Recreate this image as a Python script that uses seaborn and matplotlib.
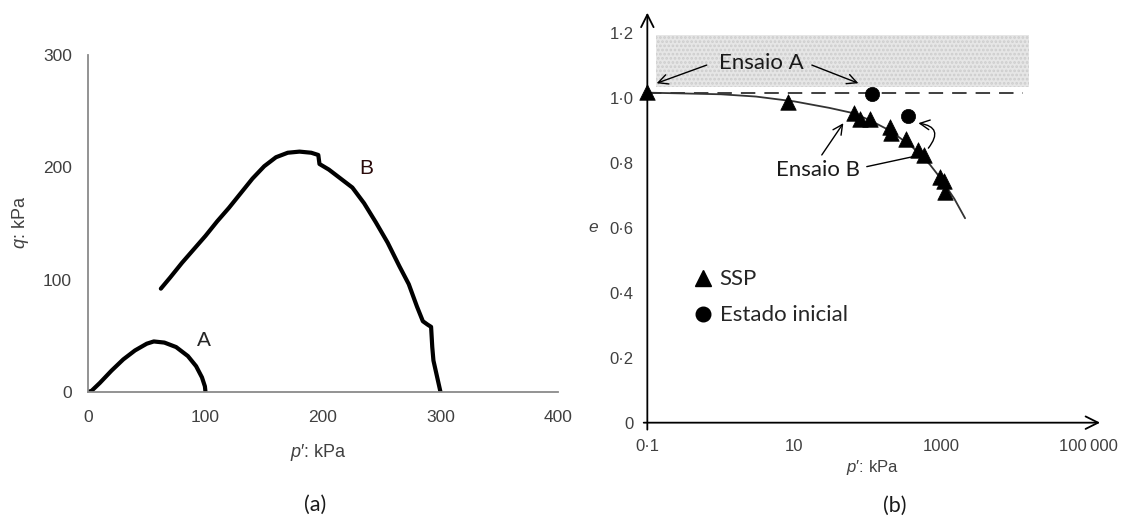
import matplotlib
matplotlib.use("Agg")
import matplotlib.pyplot as plt
from matplotlib.lines import Line2D
from matplotlib.ticker import NullLocator
import seaborn as sns
import pandas as pd

# ---- Panel (a): effective stress paths, q against p' ----
path_a_p = [0, 3, 10, 20, 30, 40, 50, 56, 65, 75, 85, 92, 97, 99.5, 100]
path_a_q = [0, 1, 8, 19, 29, 37, 43, 45, 44, 40, 32, 23, 13, 5, 0]

path_b_p = [62, 70, 80, 90, 100, 110, 120, 130, 140, 150, 160, 170, 180, 190, 196,
            197, 205, 215, 225, 235, 245, 255, 265, 273, 280, 285, 289, 292, 293,
            294, 297, 300]
path_b_q = [92, 102, 115, 127, 139, 152, 164, 177, 190, 201, 209, 213, 214, 213, 211,
            203, 198, 190, 182, 168, 151, 133, 112, 96, 76, 63, 60, 58, 40,
            28, 14, 0]

q_ticks = [0, 100, 200, 300]
p_ticks_a = [0, 100, 200, 300, 400]

# ---- Panel (b): void ratio against log p' ----
ssp_p = [0.1, 8.3, 65, 78, 107, 199, 205, 328, 487, 582, 955, 1070, 1125]
ssp_e = [1.02, 0.989, 0.953, 0.935, 0.935, 0.910, 0.892, 0.873, 0.840, 0.825,
         0.756, 0.746, 0.712]

init_p = [115, 349]
init_e = [1.013, 0.945]

csl_p = [0.1, 1, 3, 10, 30, 60, 100, 200, 400, 700, 1000, 1500, 2100]
csl_e = [1.017, 1.012, 1.005, 0.99, 0.97, 0.955, 0.935, 0.90, 0.85, 0.795, 0.75,
         0.69, 0.63]

e_ticks = [0, 0.2, 0.4, 0.6, 0.8, 1.0, 1.2]
e_tick_labels = ["0", "0·2", "0·4", "0·6", "0·8", "1·0", "1·2"]
p_ticks_b = [0.1, 10, 1000, 100000]
p_tick_labels_b = ["0·1", "10", "1000", "100\u2009000"]

e_initial = 1.017            # dashed reference level
loose_band = (1.035, 1.195)  # shaded band of void ratios
loose_band_p = (0.13, 15500)

sns.set_style("white")
plt.rcParams["font.family"] = ["Liberation Sans", "DejaVu Sans"]
plt.rcParams["mathtext.fontset"] = "custom"
plt.rcParams["mathtext.rm"] = "Liberation Sans"
plt.rcParams["mathtext.it"] = "Liberation Sans:italic"
plt.rcParams["hatch.linewidth"] = 1.3

ANNOT_FONT = ["Lato", "DejaVu Sans"]
P_LABEL = "$p$\u2032: kPa"

fig = plt.figure(figsize=(11.26, 5.19), dpi=100)

# ================= Panel (a) =================
ax1 = fig.add_axes([0.07815, 0.2447, 0.4174, 0.6493])
df_a = pd.DataFrame({"p": path_a_p, "q": path_a_q})
df_b = pd.DataFrame({"p": path_b_p, "q": path_b_q})
sns.lineplot(data=df_a, x="p", y="q", ax=ax1, sort=False, estimator=None,
             color="black", lw=3.0, solid_capstyle="round", solid_joinstyle="round")
sns.lineplot(data=df_b, x="p", y="q", ax=ax1, sort=False, estimator=None,
             color="black", lw=3.0, solid_capstyle="round", solid_joinstyle="round")
ax1.set_xlim(0, 400)
ax1.set_ylim(0, 300)
ax1.set_xticks(p_ticks_a)
ax1.set_yticks(q_ticks)
for side in ("top", "right"):
    ax1.spines[side].set_visible(False)
for side in ("left", "bottom"):
    ax1.spines[side].set_color("#8a8a8a")
    ax1.spines[side].set_linewidth(1.3)
ax1.tick_params(axis="y", direction="out", length=7, width=1.0, color="#8a8a8a",
                pad=4.5, labelsize=12.5, labelcolor="#404040")
ax1.tick_params(axis="x", direction="inout", length=6, width=1.0, color="#8a8a8a",
                pad=10, labelsize=12.5, labelcolor="#404040")
ax1.set_xlabel(P_LABEL, fontsize=13, color="#404040")
ax1.set_ylabel("$q$: kPa", fontsize=13, color="#404040")
ax1.xaxis.set_label_coords(0.491, -0.148)
ax1.yaxis.set_label_coords(-0.121, 0.504)
ax1.text(98.7, 46, "A", fontsize=15, ha="center", va="center")
ax1.text(236.6, 199, "B", fontsize=15, ha="center", va="center", color="#2a0a0a")

# ================= Panel (b) =================
ax2 = fig.add_axes([0.5749, 0.1856, 0.4021, 0.79])
ax2.set_xscale("log")
ax2.set_xlim(0.1, 10 ** 5.159)
ax2.set_ylim(0, 1.2635)

ax2.fill_between(list(loose_band_p), loose_band[0], loose_band[1],
                 facecolor="#e6e6e6", edgecolor="#cdcdcd", hatch="....",
                 linewidth=0, zorder=1)
ax2.plot([0.1, 13000], [e_initial, e_initial], color="#303030", lw=1.3,
         dashes=(8, 5), zorder=2)

df_csl = pd.DataFrame({"p": csl_p, "e": csl_e})
sns.lineplot(data=df_csl, x="p", y="e", ax=ax2, sort=False, estimator=None,
             color="#333333", lw=1.3, zorder=3)
df_ssp = pd.DataFrame({"p": ssp_p, "e": ssp_e})
df_init = pd.DataFrame({"p": init_p, "e": init_e})
sns.scatterplot(data=df_ssp, x="p", y="e", ax=ax2, marker="^", s=125,
                color="black", edgecolor="black", linewidth=0.5, zorder=4,
                clip_on=False)
sns.scatterplot(data=df_init, x="p", y="e", ax=ax2, marker="o", s=105,
                color="black", edgecolor="black", linewidth=0.5, zorder=4)

ax2.set_xticks(p_ticks_b)
ax2.set_xticklabels(p_tick_labels_b)
ax2.xaxis.set_minor_locator(NullLocator())
ax2.set_yticks(e_ticks)
ax2.set_yticklabels(e_tick_labels)
for side in ax2.spines:
    ax2.spines[side].set_visible(False)
ax2.tick_params(axis="y", direction="out", length=5, width=1.0, color="#909090",
                pad=5, labelsize=12, labelcolor="#404040")
ax2.tick_params(axis="x", direction="out", length=4, width=1.0, color="#b0b0b0",
                pad=8, labelsize=12, labelcolor="#404040")
ax2.set_xlabel(P_LABEL, fontsize=12, color="#404040")
ax2.xaxis.set_label_coords(0.496, -0.086)
ax2.set_ylabel("$e$", fontsize=12.5, color="#404040", rotation=0,
               va="center", ha="center")
ax2.yaxis.set_label_coords(-0.118, 0.476)

# axis lines drawn as arrows
axis_arrow = dict(arrowstyle="->,head_length=0.9,head_width=0.45", lw=1.3,
                  color="black", shrinkA=0, shrinkB=0, mutation_scale=10)
ax2.annotate("", xy=(1.0, 0.0), xytext=(-0.008, 0.0), xycoords="axes fraction",
             textcoords="axes fraction", arrowprops=axis_arrow, annotation_clip=False)
ax2.annotate("", xy=(0.0, 1.0), xytext=(0.0, -0.017), xycoords="axes fraction",
             textcoords="axes fraction", arrowprops=axis_arrow, annotation_clip=False)

# annotations
thin_arrow = dict(arrowstyle="->,head_length=0.7,head_width=0.35", lw=1.0,
                  color="black", shrinkA=0, shrinkB=0, mutation_scale=10)
ax2.text(3.6, 1.1076, "Ensaio A", fontsize=16, ha="center", va="center",
         family=ANNOT_FONT, color="#1a1a1a")
ax2.annotate("", xy=(0.134, 1.046), xytext=(0.643, 1.102), arrowprops=thin_arrow)
ax2.annotate("", xy=(74.3, 1.046), xytext=(17.3, 1.102), arrowprops=thin_arrow)

ax2.text(20.8, 0.779, "Ensaio B", fontsize=16, ha="center", va="center",
         family=ANNOT_FONT, color="#1a1a1a")
ax2.annotate("", xy=(46.4, 0.923), xytext=(23.6, 0.825), arrowprops=thin_arrow)
ax2.annotate("", xy=(416, 0.820), xytext=(96.6, 0.789),
             arrowprops=dict(arrowstyle="-", lw=1.0, color="black",
                             shrinkA=0, shrinkB=0))
curved = dict(thin_arrow)
curved["connectionstyle"] = "arc3,rad=0.85"
ax2.annotate("", xy=(486, 0.923), xytext=(665, 0.846), arrowprops=curved)

# legend
handles = [Line2D([], [], ls="", marker="^", color="black", ms=11.5),
           Line2D([], [], ls="", marker="o", color="black", ms=10.5)]
ax2.legend(handles, ["SSP", "Estado inicial"], loc="upper left",
           bbox_to_anchor=(0.103, 0.374), frameon=False, borderpad=0,
           borderaxespad=0, handlelength=0.8, handletextpad=0.35,
           labelspacing=0.72, prop={"family": ANNOT_FONT, "size": 16})

# panel captions
fig.text(0.2797, 0.027, "(a)", fontsize=15.5, ha="center", va="center",
         family=ANNOT_FONT, color="#1a1a1a")
fig.text(0.795, 0.025, "(b)", fontsize=15.5, ha="center", va="center",
         family=ANNOT_FONT, color="#1a1a1a")

fig.savefig("out.png", dpi=100)
